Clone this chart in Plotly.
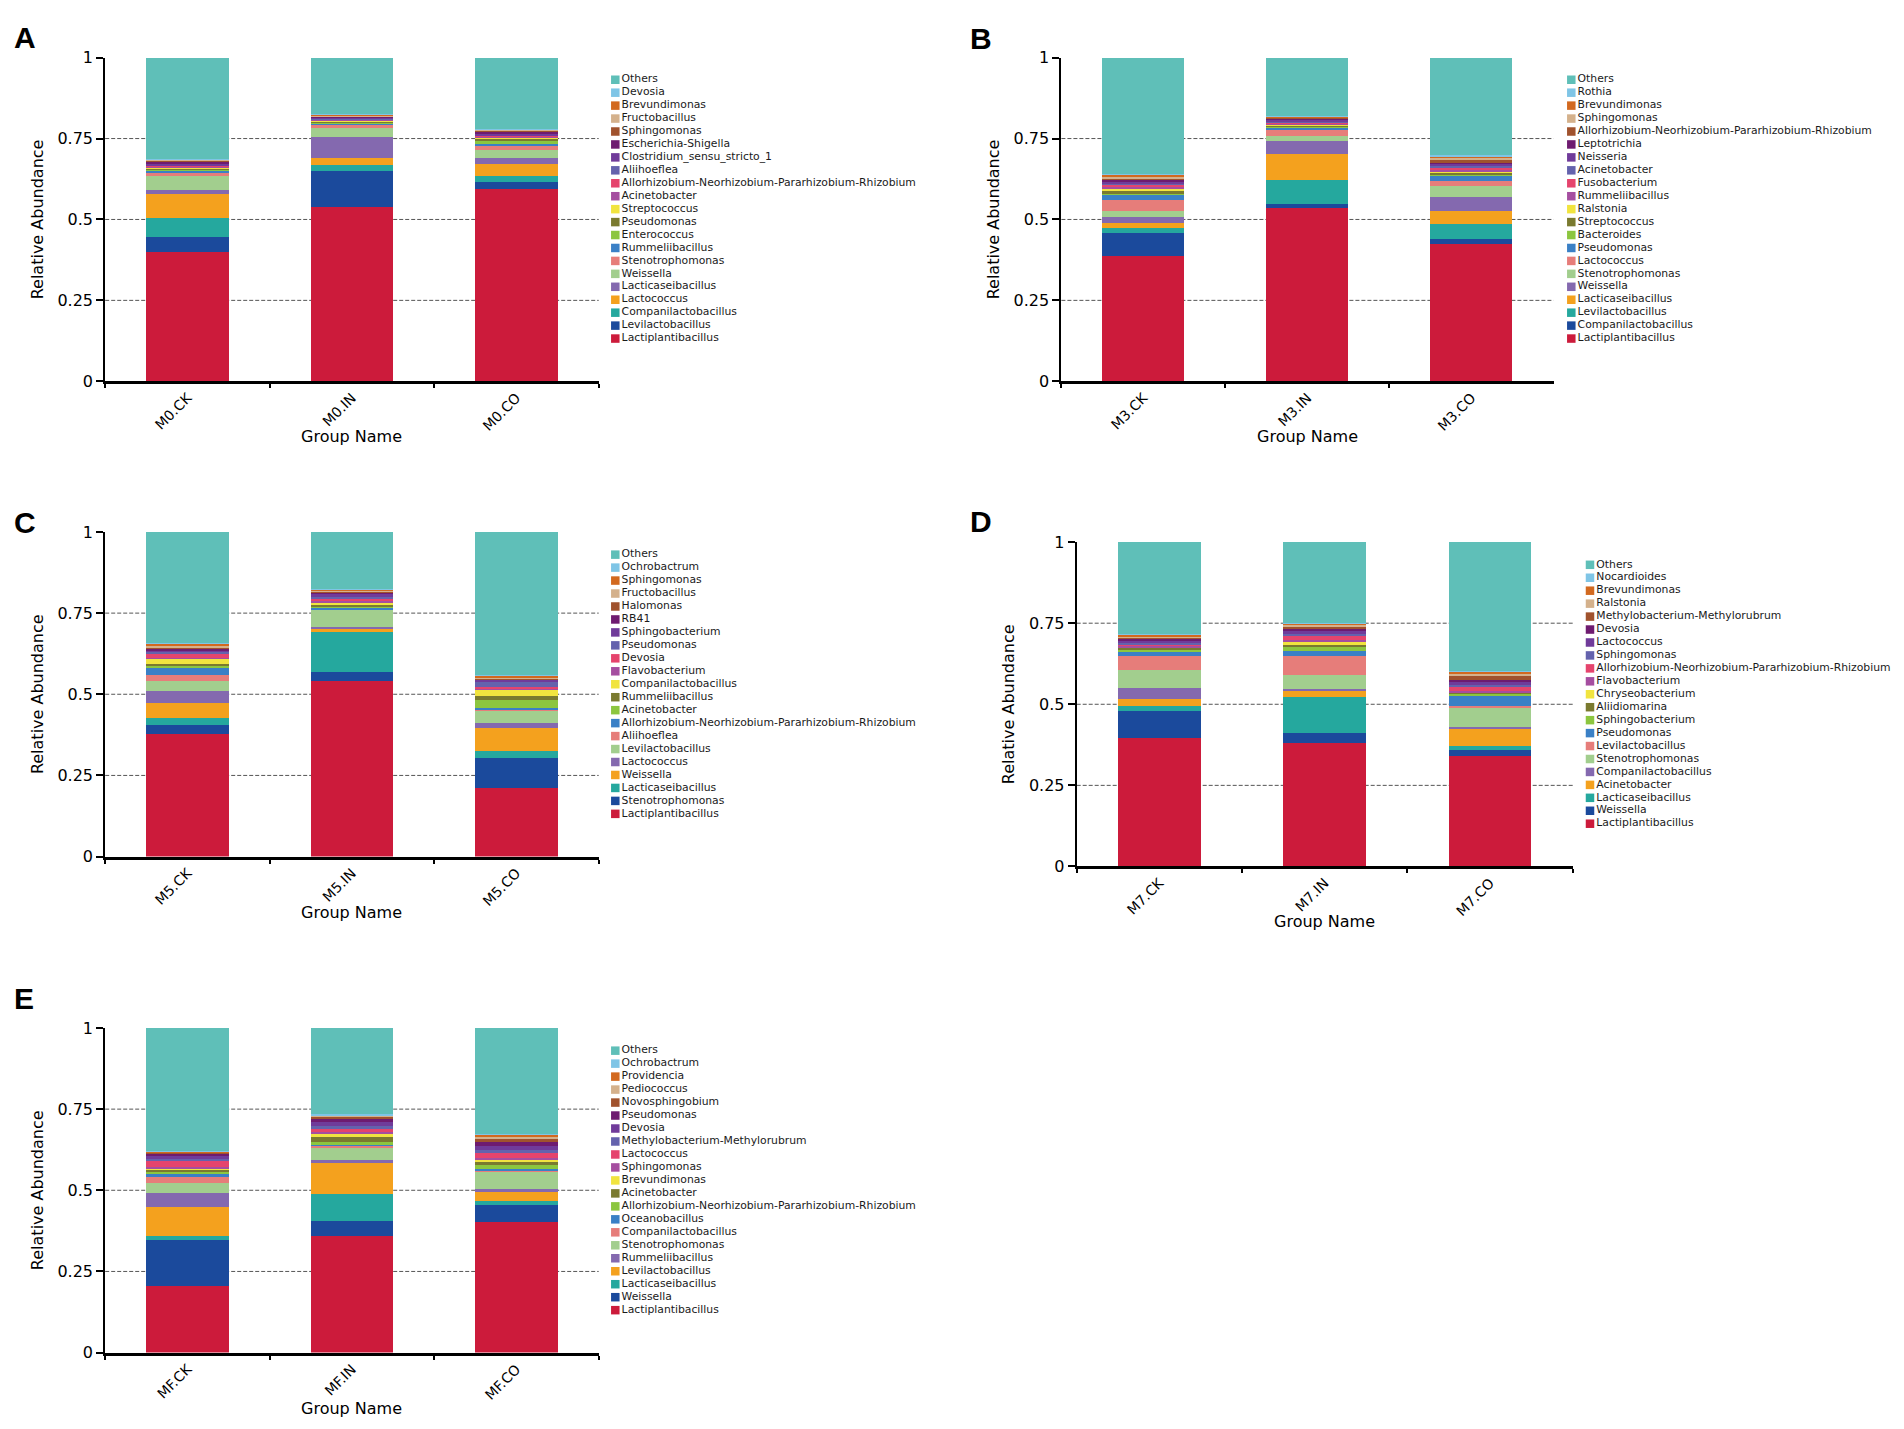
"""
plot.py — Genus-level relative abundance, stacked bars for panels A–E.
"""

import plotly.graph_objects as go

# ============================================================
# Data (bottom of each stack first, Others last)
# ============================================================

A_GROUPS = ["M0.CK", "M0.IN", "M0.CO"]
A_TAXA = [
    "Lactiplantibacillus", "Levilactobacillus", "Companilactobacillus", "Lactococcus",
    "Lacticaseibacillus", "Weissella", "Stenotrophomonas", "Rummeliibacillus",
    "Enterococcus", "Pseudomonas", "Streptococcus", "Acinetobacter",
    "Allorhizobium-Neorhizobium-Pararhizobium-Rhizobium", "Aliihoeflea",
    "Clostridium_sensu_stricto_1", "Escherichia-Shigella", "Sphingomonas",
    "Fructobacillus", "Brevundimonas", "Devosia", "Others",
]
A_CK = [0.398, 0.048, 0.058, 0.074, 0.012, 0.045, 0.010, 0.006, 0.003, 0.004, 0.003,
        0.004, 0.002, 0.002, 0.006, 0.006, 0.002, 0.002, 0.002, 0.001, 0.312]
A_IN = [0.538, 0.113, 0.018, 0.021, 0.064, 0.028, 0.014, 0.002, 0.002, 0.004, 0.002,
        0.003, 0.002, 0.002, 0.002, 0.003, 0.002, 0.002, 0.002, 0.001, 0.175]
A_CO = [0.593, 0.023, 0.018, 0.037, 0.019, 0.026, 0.014, 0.002, 0.010, 0.008, 0.003,
        0.004, 0.003, 0.002, 0.006, 0.005, 0.002, 0.003, 0.002, 0.001, 0.219]

B_GROUPS = ["M3.CK", "M3.IN", "M3.CO"]
B_TAXA = [
    "Lactiplantibacillus", "Companilactobacillus", "Levilactobacillus", "Lacticaseibacillus",
    "Weissella", "Stenotrophomonas", "Lactococcus", "Pseudomonas", "Bacteroides",
    "Streptococcus", "Ralstonia", "Rummeliibacillus", "Fusobacterium", "Acinetobacter",
    "Neisseria", "Leptotrichia", "Allorhizobium-Neorhizobium-Pararhizobium-Rhizobium",
    "Sphingomonas", "Brevundimonas", "Rothia", "Others",
]
B_CK = [0.386, 0.072, 0.017, 0.013, 0.020, 0.019, 0.033, 0.017, 0.003, 0.008, 0.008,
        0.005, 0.007, 0.005, 0.006, 0.006, 0.004, 0.006, 0.004, 0.003, 0.358]
B_IN = [0.535, 0.013, 0.075, 0.080, 0.038, 0.016, 0.019, 0.010, 0.002, 0.003, 0.004,
        0.003, 0.003, 0.004, 0.004, 0.003, 0.003, 0.002, 0.002, 0.001, 0.180]
B_CO = [0.425, 0.015, 0.046, 0.041, 0.041, 0.035, 0.016, 0.014, 0.008, 0.004, 0.004,
        0.005, 0.005, 0.010, 0.004, 0.003, 0.010, 0.005, 0.005, 0.002, 0.302]

C_GROUPS = ["M5.CK", "M5.IN", "M5.CO"]
C_TAXA = [
    "Lactiplantibacillus", "Stenotrophomonas", "Lacticaseibacillus", "Weissella",
    "Lactococcus", "Levilactobacillus", "Aliihoeflea",
    "Allorhizobium-Neorhizobium-Pararhizobium-Rhizobium", "Acinetobacter",
    "Rummeliibacillus", "Companilactobacillus", "Flavobacterium", "Devosia",
    "Pseudomonas", "Sphingobacterium", "RB41", "Halomonas", "Fructobacillus",
    "Sphingomonas", "Ochrobactrum", "Others",
]
C_CK = [0.379, 0.025, 0.024, 0.045, 0.036, 0.032, 0.019, 0.022, 0.008, 0.002, 0.018,
        0.003, 0.010, 0.008, 0.005, 0.005, 0.004, 0.006, 0.005, 0.003, 0.341]
C_IN = [0.541, 0.027, 0.125, 0.010, 0.005, 0.052, 0.002, 0.006, 0.003, 0.004, 0.008,
        0.006, 0.004, 0.008, 0.010, 0.003, 0.002, 0.003, 0.003, 0.002, 0.176]
C_CO = [0.210, 0.095, 0.020, 0.070, 0.016, 0.038, 0.002, 0.007, 0.024, 0.014, 0.018,
        0.003, 0.004, 0.018, 0.006, 0.002, 0.002, 0.003, 0.006, 0.002, 0.440]

D_GROUPS = ["M7.CK", "M7.IN", "M7.CO"]
D_TAXA = [
    "Lactiplantibacillus", "Weissella", "Lacticaseibacillus", "Acinetobacter",
    "Companilactobacillus", "Stenotrophomonas", "Levilactobacillus", "Pseudomonas",
    "Sphingobacterium", "Aliidiomarina", "Chryseobacterium", "Flavobacterium",
    "Allorhizobium-Neorhizobium-Pararhizobium-Rhizobium", "Sphingomonas", "Lactococcus",
    "Devosia", "Methylobacterium-Methylorubrum", "Ralstonia", "Brevundimonas",
    "Nocardioides", "Others",
]
D_CK = [0.396, 0.082, 0.018, 0.020, 0.035, 0.054, 0.045, 0.013, 0.003, 0.008, 0.002,
        0.005, 0.003, 0.004, 0.007, 0.007, 0.003, 0.003, 0.006, 0.002, 0.284]
D_IN = [0.380, 0.030, 0.112, 0.018, 0.008, 0.042, 0.060, 0.013, 0.016, 0.003, 0.009,
        0.007, 0.013, 0.006, 0.009, 0.008, 0.005, 0.004, 0.007, 0.002, 0.248]
D_CO = [0.342, 0.018, 0.012, 0.051, 0.008, 0.059, 0.006, 0.030, 0.007, 0.002, 0.002,
        0.003, 0.012, 0.008, 0.008, 0.008, 0.012, 0.006, 0.006, 0.002, 0.398]

E_GROUPS = ["MF.CK", "MF.IN", "MF.CO"]
E_TAXA = [
    "Lactiplantibacillus", "Weissella", "Lacticaseibacillus", "Levilactobacillus",
    "Rummeliibacillus", "Stenotrophomonas", "Companilactobacillus", "Oceanobacillus",
    "Allorhizobium-Neorhizobium-Pararhizobium-Rhizobium", "Acinetobacter", "Brevundimonas",
    "Sphingomonas", "Lactococcus", "Methylobacterium-Methylorubrum", "Devosia",
    "Pseudomonas", "Novosphingobium", "Pediococcus", "Providencia", "Ochrobactrum", "Others",
]
E_CK = [0.204, 0.144, 0.010, 0.091, 0.043, 0.030, 0.018, 0.012, 0.005, 0.007, 0.004,
        0.003, 0.018, 0.008, 0.008, 0.007, 0.003, 0.002, 0.002, 0.002, 0.379]
E_IN = [0.358, 0.047, 0.084, 0.094, 0.009, 0.038, 0.008, 0.003, 0.009, 0.015, 0.008,
        0.007, 0.010, 0.009, 0.010, 0.013, 0.004, 0.003, 0.002, 0.003, 0.266]
E_CO = [0.401, 0.053, 0.012, 0.028, 0.009, 0.052, 0.007, 0.004, 0.012, 0.011, 0.006,
        0.004, 0.016, 0.010, 0.012, 0.014, 0.006, 0.010, 0.004, 0.003, 0.326]

Y_TICKS = [0, 0.25, 0.5, 0.75, 1]
Y_TICK_LABELS = ["0", "0.25", "0.5", "0.75", "1"]
GRID_VALUES = [0.25, 0.5, 0.75]

# Colours go by stack position, not by genus (bottom first, Others last)
PALETTE = [
    "#cc1b3b", "#1b4a9c", "#25a89e", "#f4a11e", "#8469af", "#a2ce8e", "#e67d7a",
    "#3a80c6", "#8cc63f", "#7a7a2f", "#f1e43f", "#a54ea0", "#e5446d", "#6462ad",
    "#703b9a", "#6e1b70", "#a0522d", "#d4b18c", "#d2691f", "#7fc5e6", "#5fbfb8",
]

PANELS = [
    ("A", A_GROUPS, A_TAXA, [A_CK, A_IN, A_CO]),
    ("B", B_GROUPS, B_TAXA, [B_CK, B_IN, B_CO]),
    ("C", C_GROUPS, C_TAXA, [C_CK, C_IN, C_CO]),
    ("D", D_GROUPS, D_TAXA, [D_CK, D_IN, D_CO]),
    ("E", E_GROUPS, E_TAXA, [E_CK, E_IN, E_CO]),
]

# ============================================================
# Page geometry (pixels on the 1904 x 1429 page)
# ============================================================

W, H = 1904, 1429
FONT = "DejaVu Sans"

# plot area: left, right, top, bottom
PLOT_BOX = {
    "A": (105.2, 598.7, 49.3, 377.3),
    "B": (1061.4, 1553.5, 49.3, 377.3),
    "C": (105.2, 598.7, 530.0, 859.0),
    "D": (1076.7, 1572.7, 540.3, 869.0),
    "E": (105.2, 598.7, 1032.7, 1361.7),
}
# legend: swatch centre x, first item y, last item y
LEGEND_BOX = {
    "A": (615.3, 71.7, 334.0),
    "B": (1571.3, 71.7, 334.0),
    "C": (615.3, 553.0, 815.7),
    "D": (1590.0, 563.3, 825.7),
    "E": (615.3, 1055.7, 1318.7),
}
LETTER_POS = {
    "A": (12, 29),
    "B": (968, 30),
    "C": (12, 520),
    "D": (968, 519),
    "E": (12, 1003),
}


def dom_x(left, right):
    return [max(0.0, left / W), min(1.0, right / W)]


def dom_y(top, bottom):
    return [max(0.0, 1 - bottom / H), min(1.0, 1 - top / H)]


# ============================================================
# Build figure
# ============================================================

fig = go.Figure()
layout = {}
shapes = []
annotations = []

for n, (letter, groups, taxa, series) in enumerate(PANELS, start=1):
    xa = "x" if n == 1 else f"x{n}"
    ya = "y" if n == 1 else f"y{n}"
    xkey = "xaxis" if n == 1 else f"xaxis{n}"
    ykey = "yaxis" if n == 1 else f"yaxis{n}"

    for i, name in enumerate(taxa):
        fig.add_trace(go.Bar(
            x=groups,
            y=[s[i] for s in series],
            name=name,
            marker=dict(color=PALETTE[i], line=dict(width=0)),
            xaxis=xa, yaxis=ya,
            showlegend=False,
            hovertemplate=f"{name}<br>%{{x}}: %{{y:.3f}}<extra></extra>",
        ))

    left, right, top, bottom = PLOT_BOX[letter]
    layout[xkey] = dict(
        domain=dom_x(left, right), anchor=ya,
        type="category", categoryorder="array", categoryarray=groups,
        showline=True, linecolor="black", linewidth=3,
        ticks="outside", tickson="boundaries", ticklen=4, tickwidth=2, tickcolor="black",
        tickangle=-45, tickfont=dict(family=FONT, size=14, color="black"),
        showgrid=False, zeroline=False,
    )
    layout[ykey] = dict(
        domain=dom_y(top, bottom), anchor=xa,
        range=[0, 1], tickvals=Y_TICKS, ticktext=Y_TICK_LABELS,
        showline=True, linecolor="black", linewidth=2,
        ticks="outside", ticklen=7, tickwidth=2, tickcolor="black",
        tickfont=dict(family=FONT, size=16, color="black"),
        title=dict(text="Relative Abundance", font=dict(family=FONT, size=16, color="black"),
                   standoff=10),
        showgrid=False, zeroline=False,
    )

    for v in GRID_VALUES:
        shapes.append(dict(
            type="line", layer="below",
            xref=f"{xa} domain", x0=0, x1=1,
            yref=ya, y0=v, y1=v,
            line=dict(color="#555555", width=1, dash="4px,2px"),
        ))

    # x-axis title, pinned just under the rotated tick labels
    annotations.append(dict(
        text="Group Name",
        xref=f"{xa} domain", x=0.5, xanchor="center",
        yref=f"{ya} domain", y=0, yanchor="top", yshift=-44,
        showarrow=False,
        font=dict(family=FONT, size=16, color="black"),
    ))

    # legend drawn as a swatch column on its own axes
    m = n + 5
    lxkey, lykey = f"xaxis{m}", f"yaxis{m}"
    sx, first_y, last_y = LEGEND_BOX[letter]
    step = (last_y - first_y) / (len(taxa) - 1)
    fig.add_trace(go.Scatter(
        x=[0] * len(taxa),
        y=list(range(len(taxa))),
        mode="markers+text",
        marker=dict(symbol="square", size=8.5, color=PALETTE[:len(taxa)], line=dict(width=0)),
        text=taxa,
        textposition="middle right",
        textfont=dict(family=FONT, size=10.8, color="#1a1a1a"),
        xaxis=f"x{m}", yaxis=f"y{m}",
        cliponaxis=False, showlegend=False, hoverinfo="skip",
    ))
    layout[lxkey] = dict(
        domain=dom_x(sx, sx + 300), anchor=f"y{m}", range=[0, 1],
        visible=False, fixedrange=True,
    )
    layout[lykey] = dict(
        domain=dom_y(first_y - step / 2, last_y + step / 2), anchor=f"x{m}",
        range=[-0.5, len(taxa) - 0.5], visible=False, fixedrange=True,
    )

    lx, ly = LETTER_POS[letter]
    annotations.append(dict(
        text=letter, xref="paper", yref="paper",
        x=lx / W, y=1 - ly / H, xanchor="left", yanchor="middle",
        showarrow=False,
        font=dict(family="Liberation Sans", size=30, color="black", weight="bold"),
    ))

fig.update_layout(
    width=W, height=H,
    margin=dict(l=0, r=0, t=0, b=0),
    paper_bgcolor="white", plot_bgcolor="white",
    barmode="stack", bargap=0.5,
    shapes=shapes, annotations=annotations,
    font=dict(family=FONT, color="black"),
    **layout,
)

# the default page body has an 8px margin; drop it so the figure sits at the window origin
fig.write_html(
    "out.html",
    config={"displayModeBar": False},
    post_script="document.body.style.margin='0';document.body.style.overflow='hidden';",
)
